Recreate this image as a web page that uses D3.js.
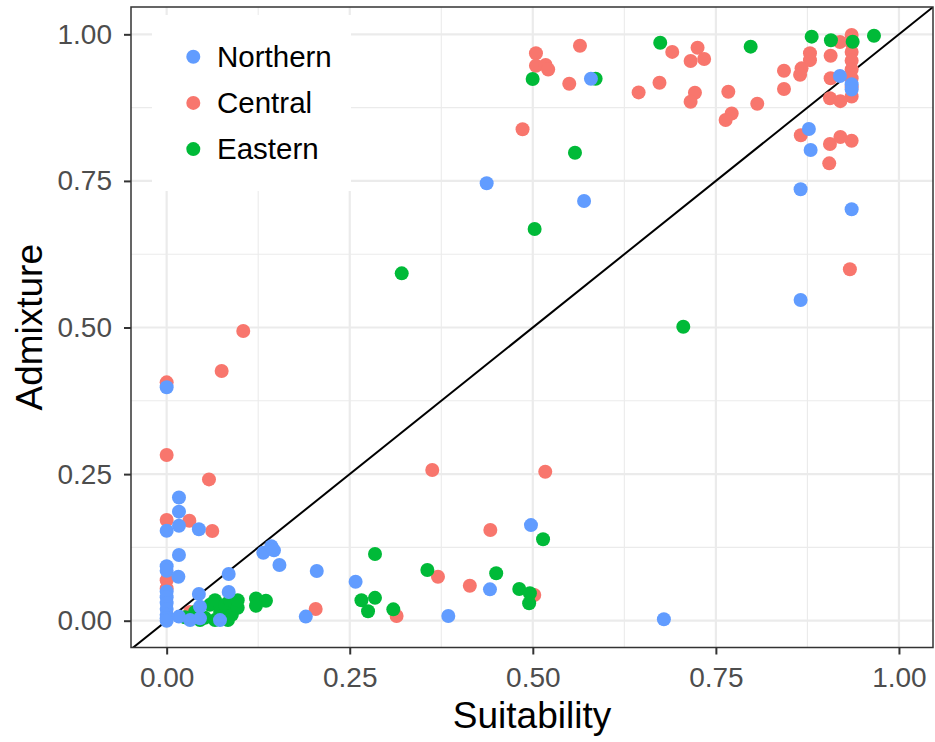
<!DOCTYPE html>
<html>
<head>
<meta charset="utf-8">
<script src="https://cdn.jsdelivr.net/npm/d3@7"></script>
<style>
  body { margin: 0; background: #fff; }
  svg text { font-family: "Liberation Sans", Arial, sans-serif; }
</style>
</head>
<body>
<svg id="chart"></svg>
<script>
// values
const groups = ["Northern", "Central", "Eastern"];
const groupColors = ["#619CFF", "#F8766D", "#00BA38"];
const tickValues = [0, 0.25, 0.5, 0.75, 1];
const minorTicks = [0.125, 0.375, 0.625, 0.875];

const northernX = [0.0168, 0.0168, 0.0168, 0, 0.044, 0.0168, 0, 0, 0.016, 0, 0, 0, 0, 0, 0, 0, 0.0168, 0.032, 0.044, 0.0455, 0.0455, 0.0728, 0.0847, 0.0847, 0.132, 0.143, 0.1465, 0.154, 0.205, 0.19, 0.258, 0.4975, 0.4415, 0.3846, 0.679, 0, 0.437, 0.57, 0.5794, 0.9194, 0.9354, 0.9354, 0.877, 0.8794, 0.8657, 0.9354, 0.8657];
const northernY = [0.21, 0.186, 0.162, 0.1535, 0.156, 0.112, 0.093, 0.085, 0.075, 0.05, 0.04, 0.03, 0.02, 0.01, 0.004, 0, 0.007, 0.001, 0.0455, 0.024, 0.004, 0.001, 0.0797, 0.049, 0.116, 0.127, 0.12, 0.095, 0.0848, 0.007, 0.0665, 0.163, 0.0535, 0.008, 0.0024, 0.398, 0.746, 0.7157, 0.9243, 0.929, 0.915, 0.906, 0.8385, 0.8027, 0.7357, 0.7016, 0.547];

const centralX = [0, 0.0578, 0, 0.031, 0.0623, 0, 0, 0.032, 0.2035, 0.314, 0.3627, 0.517, 0.442, 0.3705, 0.414, 0.502, 0.1046, 0.0751, 0, 0.5043, 0.5644, 0.5043, 0.5175, 0.521, 0.5498, 0.486, 0.6904, 0.725, 0.7155, 0.734, 0.673, 0.6445, 0.7214, 0.7155, 0.767, 0.8065, 0.7716, 0.7633, 0.843, 0.843, 0.9354, 0.9354, 0.9354, 0.9354, 0.9354, 0.9354, 0.9354, 0.9354, 0.9194, 0.8785, 0.8785, 0.867, 0.865, 0.9067, 0.9067, 0.9058, 0.92, 0.866, 0.9058, 0.92, 0.9354, 0.9048, 0.933];
const centralY = [0.2826, 0.241, 0.1717, 0.1705, 0.153, 0.069, 0.055, 0.015, 0.02, 0.008, 0.257, 0.254, 0.1547, 0.075, 0.0597, 0.0438, 0.494, 0.4258, 0.4065, 0.9676, 0.9806, 0.9465, 0.9477, 0.94, 0.9158, 0.838, 0.97, 0.977, 0.9545, 0.958, 0.9175, 0.901, 0.9004, 0.885, 0.902, 0.8817, 0.865, 0.8538, 0.938, 0.9067, 0.999, 0.985, 0.97, 0.955, 0.94, 0.925, 0.91, 0.894, 0.987, 0.9676, 0.956, 0.942, 0.931, 0.9635, 0.925, 0.891, 0.886, 0.828, 0.813, 0.825, 0.8186, 0.78, 0.5993];

const easternX = [0.2845, 0.266, 0.2845, 0.275, 0.3095, 0.025, 0.0387, 0.052, 0.059, 0.066, 0.073, 0.08, 0.0865, 0.089, 0.097, 0.097, 0.0455, 0.066, 0.0837, 0.122, 0.1356, 0.122, 0.356, 0.45, 0.4815, 0.496, 0.495, 0.514, 0.321, 0.5576, 0.5025, 0.7055, 0.4998, 0.5858, 0.674, 0.7975, 0.8808, 0.9071, 0.9368, 0.9659];
const easternY = [0.1137, 0.035, 0.039, 0.016, 0.0194, 0.006, 0.015, 0.005, 0.027, 0.035, 0.015, 0.027, 0.035, 0.01, 0.022, 0.035, 0.001, 0.001, 0.001, 0.038, 0.034, 0.0256, 0.0865, 0.0808, 0.054, 0.0467, 0.0297, 0.139, 0.5924, 0.798, 0.668, 0.5014, 0.9238, 0.9243, 0.9857, 0.979, 0.996, 0.99, 0.9874, 0.9976];

const margin = { top: 7, right: 2, bottom: 94.5, left: 131 };
const width = 935 - margin.left - margin.right;
const height = 742 - margin.top - margin.bottom;

const svg = d3.select("#chart")
  .attr("width", width + margin.left + margin.right)
  .attr("height", height + margin.top + margin.bottom)
  .append("g")
  .attr("transform", `translate(${margin.left},${margin.top})`);

const xScale = d3.scaleLinear().domain([-0.0487, 1.0465]).range([0, width]);
const yScale = d3.scaleLinear().domain([-0.0457, 1.0466]).range([height, 0]);

// grid
const grid = svg.append("g");
grid.selectAll(".vminor").data(minorTicks).enter().append("line")
  .attr("x1", d => xScale(d)).attr("x2", d => xScale(d))
  .attr("y1", 0).attr("y2", height)
  .attr("stroke", "#EBEBEB").attr("stroke-width", 1.1);
grid.selectAll(".hminor").data(minorTicks).enter().append("line")
  .attr("y1", d => yScale(d)).attr("y2", d => yScale(d))
  .attr("x1", 0).attr("x2", width)
  .attr("stroke", "#EBEBEB").attr("stroke-width", 1.1);
grid.selectAll(".vmajor").data(tickValues).enter().append("line")
  .attr("x1", d => xScale(d)).attr("x2", d => xScale(d))
  .attr("y1", 0).attr("y2", height)
  .attr("stroke", "#EBEBEB").attr("stroke-width", 2.2);
grid.selectAll(".hmajor").data(tickValues).enter().append("line")
  .attr("y1", d => yScale(d)).attr("y2", d => yScale(d))
  .attr("x1", 0).attr("x2", width)
  .attr("stroke", "#EBEBEB").attr("stroke-width", 2.2);

// 1:1 line
svg.append("clipPath").attr("id", "clip")
  .append("rect").attr("width", width).attr("height", height);
svg.append("line")
  .attr("clip-path", "url(#clip)")
  .attr("x1", xScale(-0.1)).attr("y1", yScale(-0.1))
  .attr("x2", xScale(1.1)).attr("y2", yScale(1.1))
  .attr("stroke", "#000").attr("stroke-width", 2);

// points
const series = [
  { name: "Central", xs: centralX, ys: centralY },
  { name: "Eastern", xs: easternX, ys: easternY },
  { name: "Northern", xs: northernX, ys: northernY }
];
const color = d3.scaleOrdinal().domain(groups).range(groupColors);

series.forEach(s => {
  const pts = s.xs.map((x, i) => ({ x: x, y: s.ys[i] }));
  svg.append("g").selectAll("circle")
    .data(pts)
    .enter()
    .append("circle")
    .attr("cx", d => xScale(d.x))
    .attr("cy", d => yScale(d.y))
    .attr("r", 7)
    .attr("fill", color(s.name));
});

// legend
const legend = svg.append("g").attr("transform", "translate(21,8)");
legend.append("rect")
  .attr("width", 199).attr("height", 176)
  .attr("fill", "#fff");
groups.forEach((g, i) => {
  legend.append("circle")
    .attr("cx", 41.3).attr("cy", 41.7 + i * 46.2)
    .attr("r", 7).attr("fill", color(g));
  legend.append("text")
    .attr("x", 65).attr("y", 41.7 + i * 46.2)
    .attr("dy", "0.35em")
    .attr("font-size", 29.5)
    .attr("fill", "#000")
    .text(g);
});

// panel border
svg.append("rect")
  .attr("width", width).attr("height", height)
  .attr("fill", "none").attr("stroke", "#333333").attr("stroke-width", 1.5);

// axes
const xAxis = d3.axisBottom(xScale).tickValues(tickValues)
  .tickFormat(d3.format(".2f")).tickSize(7).tickPadding(13);
const yAxis = d3.axisLeft(yScale).tickValues(tickValues)
  .tickFormat(d3.format(".2f")).tickSize(7).tickPadding(12);

const gx = svg.append("g").attr("transform", `translate(0,${height})`).call(xAxis);
const gy = svg.append("g").call(yAxis);
[gx, gy].forEach(g => {
  g.select(".domain").remove();
  g.selectAll(".tick line").attr("stroke", "#333333").attr("stroke-width", 2);
  g.selectAll(".tick text").attr("fill", "#4D4D4D").attr("font-size", 28)
    .attr("font-family", "Liberation Sans, Arial, sans-serif");
});

svg.append("text")
  .attr("x", width / 2)
  .attr("y", 728 - margin.top)
  .attr("text-anchor", "middle")
  .attr("font-size", 37)
  .text("Suitability");

svg.append("text")
  .attr("x", -height / 2)
  .attr("y", 42 - margin.left)
  .attr("text-anchor", "middle")
  .attr("transform", "rotate(-90)")
  .attr("font-size", 37)
  .text("Admixture");
</script>
</body>
</html>
